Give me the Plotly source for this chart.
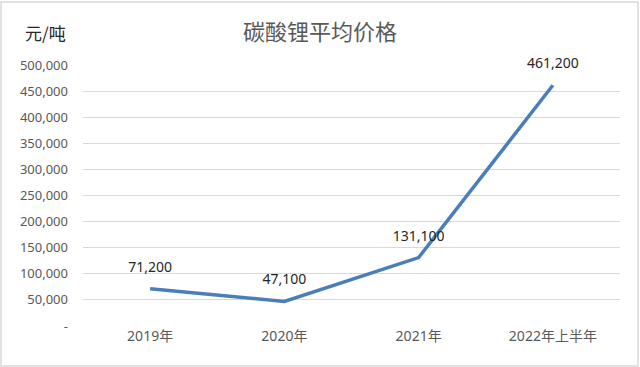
import plotly.graph_objects as go

categories = ["2019年", "2020年", "2021年", "2022年上半年"]
values = [71200, 47100, 131100, 461200]
labels = ["71,200", "47,100", "131,100", "461,200"]
ytick_vals = [0, 50000, 100000, 150000, 200000, 250000, 300000, 350000, 400000, 450000, 500000]
ytick_text = ["-", "50,000", "100,000", "150,000", "200,000", "250,000", "300,000",
              "350,000", "400,000", "450,000", "500,000"]

FONT = "Noto Sans, Noto Sans CJK SC"

fig = go.Figure()
fig.add_trace(go.Scatter(
    x=categories, y=values, mode="lines+markers+text",
    line=dict(color="#4A7EBB", width=3.5),
    marker=dict(size=20, opacity=0, color="#4A7EBB"),
    text=labels, textposition="top center",
    textfont=dict(family=FONT, size=14, color="#262626"),
    cliponaxis=False, showlegend=False,
))

L, R, T, B = 83, 20, 65, 41
W, H = 640, 367
pw, ph = W - L - R, H - T - B

fig.update_layout(
    width=W, height=H,
    margin=dict(l=L, r=R, t=T, b=B),
    paper_bgcolor="white", plot_bgcolor="white",
    font=dict(family=FONT, color="#595959"),
    title=dict(text="碳酸锂平均价格", x=0.5, xref="container", xanchor="center",
               y=1 - 32 / H, yanchor="middle",
               font=dict(family="Noto Sans CJK SC", size=22, color="#595959")),
    xaxis=dict(type="category", range=[-0.5, 3.5], showgrid=False, showline=False,
               zeroline=False, ticks="",
               tickfont=dict(family=FONT, size=14, color="#595959")),
    yaxis=dict(range=[0, 500000], tickvals=ytick_vals, ticktext=ytick_text,
               showgrid=True, gridcolor="#D9D9D9", gridwidth=1, zeroline=False,
               showline=False, ticks="", ticklabelstandoff=14,
               tickfont=dict(family=FONT, size=13, color="#595959")),
    annotations=[dict(text="元/吨", xref="paper", yref="paper",
                      x=(45 - L) / pw, y=(H - 32 - B) / ph,
                      xanchor="center", yanchor="middle", showarrow=False,
                      font=dict(family="Noto Sans CJK SC", size=17, color="#262626"))],
    shapes=[dict(type="rect", xref="paper", yref="paper",
                 x0=(1 - L) / pw, x1=(W - 2 - L) / pw,
                 y0=(1 - B) / ph, y1=(H - 2 - B) / ph,
                 line=dict(color="#D9D9D9", width=1.5), layer="below")],
)

fig.write_html("out.html")
